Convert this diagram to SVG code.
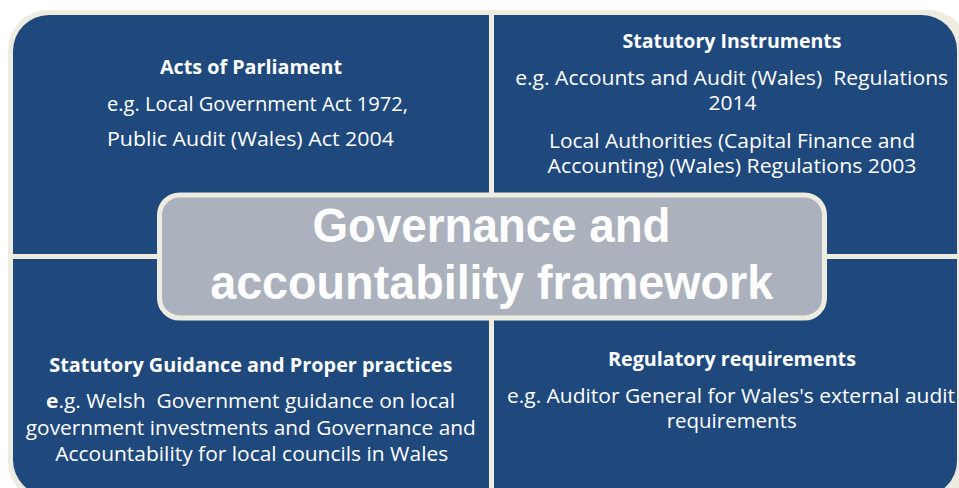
<svg xmlns="http://www.w3.org/2000/svg" width="959" height="488" viewBox="0 0 959 488">
<style>
.q{fill:#1F497D}
.t{font-family:"Open Sans","Noto Sans","Liberation Sans",sans-serif;font-size:20px;fill:#FFFFFF;text-anchor:middle;white-space:pre}
.b{font-weight:bold}
.title{font-family:"Liberation Sans","Open Sans",sans-serif;font-size:48px;font-weight:bold;fill:#FFFFFF;text-anchor:middle}
</style>
<rect x="0" y="0" width="959" height="488" fill="#FFFFFF"/>
<rect x="8" y="10" width="960" height="492" rx="40" fill="#EEEBE0"/>
<g id="connectors"></g>
<g id="node-acts">
<path class="q" d="M13,254 V51 A36,36 0 0 1 49,15 H489 V254 Z"/>
<text class="t b" x="251" y="74" textLength="182" lengthAdjust="spacingAndGlyphs">Acts of Parliament</text>
<text class="t" x="257.5" y="111" textLength="301" lengthAdjust="spacingAndGlyphs">e.g. Local Government Act 1972,</text>
<text class="t" x="250.5" y="146" textLength="287" lengthAdjust="spacingAndGlyphs">Public Audit (Wales) Act 2004</text>
</g>
<g id="node-instruments">
<path class="q" d="M494,15 H922 A35,35 0 0 1 957,50 V254 H494 Z"/>
<text class="t b" x="732" y="48" textLength="219" lengthAdjust="spacingAndGlyphs">Statutory Instruments</text>
<text class="t" x="731.7" y="84.5" textLength="433" lengthAdjust="spacingAndGlyphs" xml:space="preserve">e.g. Accounts and Audit (Wales)  Regulations</text>
<text class="t" x="732.5" y="110" textLength="48" lengthAdjust="spacingAndGlyphs">2014</text>
<text class="t" x="732" y="148" textLength="366" lengthAdjust="spacingAndGlyphs">Local Authorities (Capital Finance and</text>
<text class="t" x="732" y="172.5" textLength="369" lengthAdjust="spacingAndGlyphs">Accounting) (Wales) Regulations 2003</text>
</g>
<g id="node-guidance">
<path class="q" d="M13,259 H489 V496 H49 A36,36 0 0 1 13,460 Z"/>
<text class="t b" x="250.8" y="371.5" textLength="403" lengthAdjust="spacingAndGlyphs">Statutory Guidance and Proper practices</text>
<text class="t" x="250.5" y="408" textLength="409" lengthAdjust="spacingAndGlyphs" xml:space="preserve"><tspan class="b">e</tspan>.g. Welsh  Government guidance on local</text>
<text class="t" x="250.8" y="435" textLength="450" lengthAdjust="spacingAndGlyphs">government investments and Governance and</text>
<text class="t" x="251.7" y="461" textLength="393" lengthAdjust="spacingAndGlyphs">Accountability for local councils in Wales</text>
</g>
<g id="node-regulatory">
<path class="q" d="M494,259 H957 V461 A35,35 0 0 1 922,496 H494 Z"/>
<text class="t b" x="732" y="365.5" textLength="248" lengthAdjust="spacingAndGlyphs">Regulatory requirements</text>
<text class="t" x="731" y="402.5" textLength="448" lengthAdjust="spacingAndGlyphs">e.g. Auditor General for Wales's external audit</text>
<text class="t" x="731.7" y="428" textLength="130" lengthAdjust="spacingAndGlyphs">requirements</text>
</g>
<g id="node-center">
<rect x="159.5" y="195" width="665" height="123" rx="20" fill="#ACB1BE" stroke="#EEEBE0" stroke-width="5"/>
<text class="title" x="491.5" y="242" textLength="358" lengthAdjust="spacingAndGlyphs">Governance and</text>
<text class="title" x="491.7" y="298.5" textLength="563" lengthAdjust="spacingAndGlyphs">accountability framework</text>
</g>
</svg>
